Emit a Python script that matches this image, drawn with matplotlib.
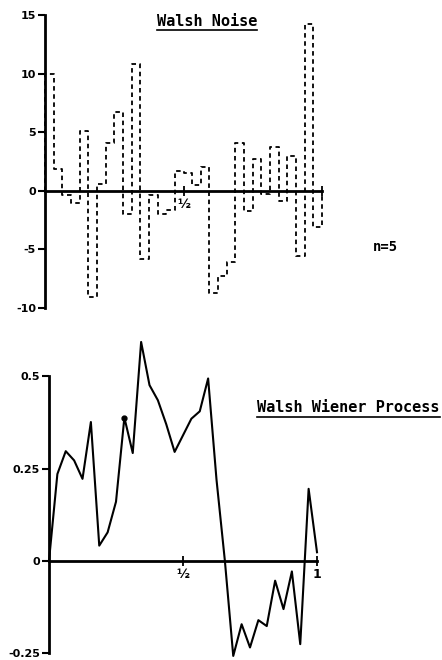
import numpy as np
import matplotlib
matplotlib.use("Agg")
import matplotlib.pyplot as plt
from matplotlib.lines import Line2D

# ---- data ----
noise = [10.0, 1.9, -0.4, -1.0, 5.1, -9.1, 0.6, 4.1, 6.7, -2.0, 10.8, -5.8,
         -0.4, -2.0, -1.6, 1.7, 1.5, 0.5, 2.0, -8.7, -7.3, -6.1, 4.1, -1.7,
         2.7, -0.3, 3.7, -0.9, 3.0, -5.6, 14.2, -3.1]
wiener = [0.0, 0.235, 0.297, 0.272, 0.222, 0.376, 0.041, 0.077, 0.16, 0.388,
          0.292, 0.593, 0.476, 0.435, 0.37, 0.295, 0.34, 0.385, 0.405, 0.494,
          0.22, 0.0, -0.258, -0.172, -0.235, -0.161, -0.177, -0.054, -0.131,
          -0.029, -0.226, 0.195, 0.023]
top_yticks = [-10, -5, 0, 5, 10, 15]
top_ylabels = ["-10", "-5", "0", "5", "10", "15"]
bot_yticks = [-0.25, 0, 0.25, 0.5]
bot_ylabels = ["-0.25", "0", "0.25", "0.5"]
xticks = [0.5, 1.0]
top_xlabels = ["½", ""]
bot_xlabels = ["½", "1"]
marked_point = 9

plt.rcParams["font.family"] = ["DejaVu Sans"]
plt.rcParams["font.weight"] = "bold"

W, H = 442, 660
fig = plt.figure(figsize=(W / 100, H / 100), dpi=100)


def px_axes(l, t, r, b):
    return [l / W, 1 - b / H, (r - l) / W, (b - t) / H]


def style_axes(ax, ybounds):
    ax.spines["top"].set_visible(False)
    ax.spines["right"].set_visible(False)
    ax.spines["left"].set_linewidth(2)
    ax.spines["left"].set_bounds(*ybounds)
    ax.spines["bottom"].set_position(("data", 0))
    ax.spines["bottom"].set_linewidth(2)
    ax.tick_params(axis="y", direction="out", length=5, width=1.5, pad=1.5,
                   labelsize=8)
    ax.tick_params(axis="x", direction="inout", length=7, width=1.3, pad=2,
                   labelsize=9)
    ax.patch.set_alpha(0)


# ---- top panel: Walsh noise ----
ax1 = fig.add_axes(px_axes(45, 15, 322, 308))
n = len(noise)
edges = np.linspace(0, 1, n + 1)
xs = np.repeat(edges, 2)
ys = np.r_[0, np.repeat(noise, 2), 0]
ax1.plot(xs, ys, color="black", lw=1.3, ls=(0, (2.5, 2)), clip_on=False)
ax1.set_xlim(0, 1)
ax1.set_ylim(-10, 15)
ax1.set_yticks(top_yticks, top_ylabels)
ax1.set_xticks(xticks, top_xlabels)
style_axes(ax1, (-10, 15))

# ---- bottom panel: Walsh Wiener process ----
ax2 = fig.add_axes(px_axes(49, 332, 317, 653))
tw = np.linspace(0, 1, len(wiener))
ax2.plot(tw, wiener, color="black", lw=1.5, clip_on=False)
ax2.plot(tw[marked_point], wiener[marked_point], "o", color="black", ms=3.5,
         clip_on=False)
ax2.set_xlim(0, 1)
ax2.set_ylim(-0.25, 0.62)
ax2.set_yticks(bot_yticks, bot_ylabels)
ax2.set_xticks(xticks, bot_xlabels)
style_axes(ax2, (-0.25, 0.5))

# ---- texts ----
mono = ["DejaVu Sans Mono", "DejaVu Sans"]
t1 = fig.text(157 / W, 1 - 21 / H, "Walsh Noise", family=mono, size=11,
              weight="bold", ha="left", va="center")
t2 = fig.text(257 / W, 1 - 408 / H, "Walsh Wiener Process", family=mono,
              size=11, weight="bold", ha="left", va="center")
fig.text(385 / W, 1 - 247 / H, "n=5", family=mono, size=10, weight="bold",
         ha="center", va="center")

fig.canvas.draw()
r = fig.canvas.get_renderer()
for t in (t1, t2):
    bb = t.get_window_extent(r)
    y = bb.y0 - 1
    fig.add_artist(Line2D([bb.x0 / W, bb.x1 / W], [y / H, y / H],
                          transform=fig.transFigure, color="black", lw=1.2))

fig.savefig("out.png", dpi=100)
